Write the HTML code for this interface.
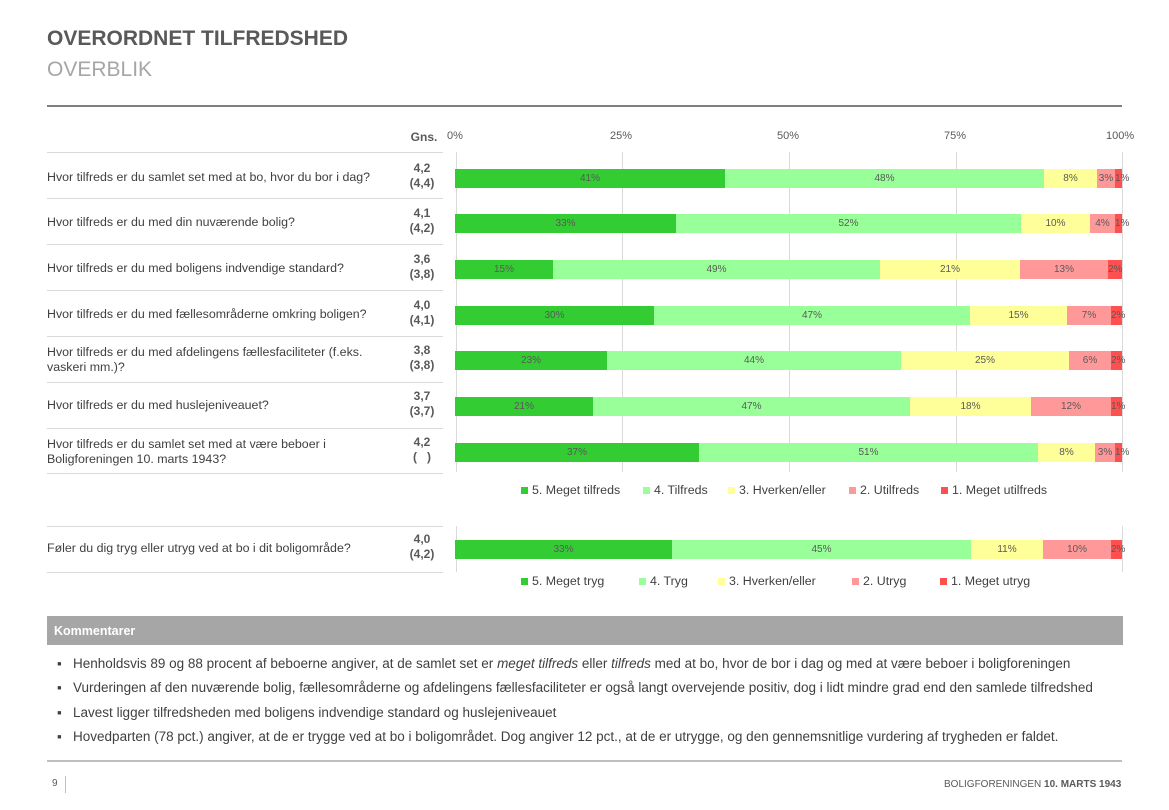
<!DOCTYPE html>
<html><head><meta charset="utf-8"><style>
body{margin:0;width:1169px;height:810px;background:#fff;position:relative;font-family:"Liberation Sans",sans-serif;color:#404040;overflow:hidden}
.a{position:absolute;white-space:nowrap}
.h1{left:47px;top:27px;font-size:21px;font-weight:bold;color:#595959}
.h2{left:47px;top:58px;font-size:21px;color:#a6a6a6}
.q{font-size:12.4px;color:#404040;line-height:15px}
.g{font-size:12px;font-weight:bold;text-align:center;width:50px;line-height:15px;color:#595959}
.ln{position:absolute;height:1px;background:#d9d9d9}
.vl{position:absolute;width:1px;background:#d9d9d9}
.seg{position:absolute;height:19px;font-size:10px;color:#595959;text-align:center;line-height:19px;overflow:visible;white-space:nowrap}
.ax{font-size:11px;color:#595959}
.lg{font-size:12.4px;color:#404040}
.sw{display:inline-block;width:7px;height:7px;margin-right:4px}
.c{font-size:13.5px;color:#404040}
</style></head><body>
<div class="a h1">OVERORDNET TILFREDSHED</div>
<div class="a h2">OVERBLIK</div>
<div class="ln" style="left:47px;top:105px;width:1075px;height:2px;background:#7f7f7f"></div>
<div class="a g" style="left:399px;top:130px">Gns.</div>
<div class="a ax" style="left:447px;top:130px">0%</div>
<div class="a ax" style="left:610px;top:130px">25%</div>
<div class="a ax" style="left:777px;top:130px">50%</div>
<div class="a ax" style="left:944px;top:130px">75%</div>
<div class="a ax" style="left:1106px;top:130px">100%</div>
<div id="c"></div>
<div class="a lg" style="left:521px;top:483px"><span class="sw" style="background:#33cc33"></span>5. Meget tilfreds</div>
<div class="a lg" style="left:643px;top:483px"><span class="sw" style="background:#99ff99"></span>4. Tilfreds</div>
<div class="a lg" style="left:728px;top:483px"><span class="sw" style="background:#ffff99"></span>3. Hverken/eller</div>
<div class="a lg" style="left:849px;top:483px"><span class="sw" style="background:#ff9999"></span>2. Utilfreds</div>
<div class="a lg" style="left:941px;top:483px"><span class="sw" style="background:#ff5050"></span>1. Meget utilfreds</div>
<div class="a lg" style="left:521px;top:574px"><span class="sw" style="background:#33cc33"></span>5. Meget tryg</div>
<div class="a lg" style="left:639px;top:574px"><span class="sw" style="background:#99ff99"></span>4. Tryg</div>
<div class="a lg" style="left:718px;top:574px"><span class="sw" style="background:#ffff99"></span>3. Hverken/eller</div>
<div class="a lg" style="left:852px;top:574px"><span class="sw" style="background:#ff9999"></span>2. Utryg</div>
<div class="a lg" style="left:940px;top:574px"><span class="sw" style="background:#ff5050"></span>1. Meget utryg</div>
<div class="a" style="left:47px;top:616px;width:1076px;height:29px;background:#a6a6a6"></div>
<div class="a" style="left:54px;top:624px;font-size:12.5px;font-weight:bold;color:#fff">Kommentarer</div>
<div class="a c" style="left:57px;top:656px">▪&nbsp;&nbsp;&nbsp;Henholdsvis 89 og 88 procent af beboerne angiver, at de samlet set er <i>meget tilfreds</i> eller <i>tilfreds</i> med at bo, hvor de bor i dag og med at være beboer i boligforeningen</div>
<div class="a c" style="left:57px;top:680px">▪&nbsp;&nbsp;&nbsp;Vurderingen af den nuværende bolig, fællesområderne og afdelingens fællesfaciliteter er også langt overvejende positiv, dog i lidt mindre grad end den samlede tilfredshed</div>
<div class="a c" style="left:57px;top:705px">▪&nbsp;&nbsp;&nbsp;Lavest ligger tilfredsheden med boligens indvendige standard og huslejeniveauet</div>
<div class="a c" style="left:57px;top:729px">▪&nbsp;&nbsp;&nbsp;Hovedparten (78 pct.) angiver, at de er trygge ved at bo i boligområdet. Dog angiver 12 pct., at de er utrygge, og den gennemsnitlige vurdering af trygheden er faldet.</div>
<div class="ln" style="left:47px;top:760px;width:1075px;height:2px;background:#bfbfbf"></div>
<div class="a" style="left:52px;top:778px;font-size:10px;color:#595959">9</div>
<div class="vl" style="left:65px;top:776px;height:17px;background:#bfbfbf"></div>
<div class="a" style="left:944px;top:779px;font-size:10px;color:#595959">BOLIGFORENINGEN <b>10. MARTS 1943</b></div>
<script>
var C=["#33cc33","#99ff99","#ffff99","#ff9999","#ff5050"];
var rows=[
["Hvor tilfreds er du samlet set med at bo, hvor du bor i dag?","4,2","(4,4)",[455,725,1044,1097,1115,1122],["41%","48%","8%","3%","1%"],178],
["Hvor tilfreds er du med din nuværende bolig?","4,1","(4,2)",[455,676,1021,1090,1115,1122],["33%","52%","10%","4%","1%"],223],
["Hvor tilfreds er du med boligens indvendige standard?","3,6","(3,8)",[455,553,880,1020,1108,1122],["15%","49%","21%","13%","2%"],269],
["Hvor tilfreds er du med fællesområderne omkring boligen?","4,0","(4,1)",[455,654,970,1067,1111,1122],["30%","47%","15%","7%","2%"],315],
["Hvor tilfreds er du med afdelingens fællesfaciliteter (f.eks.<br>vaskeri mm.)?","3,8","(3,8)",[455,607,901,1069,1111,1122],["23%","44%","25%","6%","2%"],360],
["Hvor tilfreds er du med huslejeniveauet?","3,7","(3,7)",[455,593,910,1031,1111,1122],["21%","47%","18%","12%","1%"],406],
["Hvor tilfreds er du samlet set med at være beboer i<br>Boligforeningen 10. marts 1943?","4,2","(&nbsp;&nbsp;&nbsp;)",[455,699,1038,1095,1115,1122],["37%","51%","8%","3%","1%"],452],
["Føler du dig tryg eller utryg ved at bo i dit boligområde?","4,0","(4,2)",[455,672,971,1043,1111,1122],["33%","45%","11%","10%","2%"],549]];
var h="";
[152,198,244,290,336,382,428,473,526,572].forEach(function(y){h+='<div class="ln" style="left:47px;top:'+y+'px;width:396px"></div>'});
[456,622,789,956,1122].forEach(function(x){h+='<div class="vl" style="left:'+x+'px;top:152px;height:320px"></div>'});
h+='<div class="vl" style="left:456px;top:526px;height:46px"></div><div class="vl" style="left:1122px;top:526px;height:46px"></div>';
rows.forEach(function(r){
 var two=r[0].indexOf("<br>")>0;
 h+='<div class="a q" style="left:47px;top:'+(r[5]-(two?15:8))+'px">'+r[0]+'</div>';
 h+='<div class="a g" style="left:397px;top:'+(r[5]-17)+'px">'+r[1]+'<br>'+r[2]+'</div>';
 for(var i=0;i<5;i++){var x=r[3][i],w=r[3][i+1]-x;
  h+='<div class="seg" style="left:'+x+'px;top:'+(r[5]-9)+'px;width:'+w+'px;background:'+C[i]+'">'+r[4][i]+'</div>';}
});
document.getElementById("c").innerHTML=h;
</script>
</body></html>
